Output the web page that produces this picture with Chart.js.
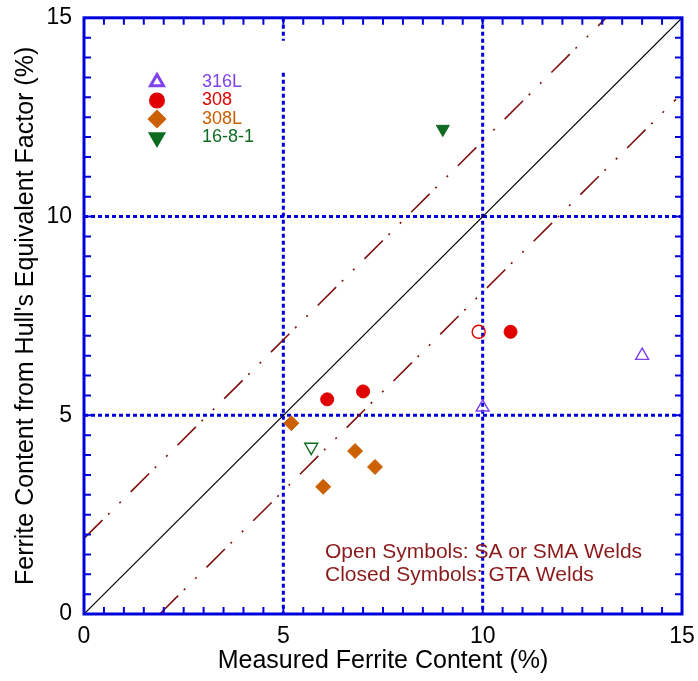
<!DOCTYPE html>
<html>
<head>
<meta charset="utf-8">
<script src="https://cdn.jsdelivr.net/npm/chart.js@4.4.1/dist/chart.umd.min.js"></script>
<style>
  html, body { margin: 0; padding: 0; background: #fff; }
  #wrap { width: 698px; height: 681px; }
</style>
</head>
<body>
<div id="wrap"><canvas id="ferriteChart"></canvas></div>
<script>
// data
const x316LOpen = [10.0, 14.0];
const y316LOpen = [5.2, 6.5];
const x308Closed = [6.1, 7.0, 10.7];
const y308Closed = [5.4, 5.6, 7.1];
const x308Open = [9.9];
const y308Open = [7.1];
const x308LClosed = [5.2, 6.0, 6.8, 7.3];
const y308LClosed = [4.8, 3.2, 4.1, 3.7];
const x1681Closed = [9.0];
const y1681Closed = [12.2];
const x1681Open = [5.7];
const y1681Open = [4.2];

// reference lines
const xEqual = [0, 15];
const yEqual = [0, 15];
const xUpper = [0, 13.1];
const yUpper = [1.9, 15];
const xLower = [1.9, 14.85];
const yLower = [0, 12.95];

const axisTicks = [0, 5, 10, 15];
const gridValues = [5, 10];

const legendLabels = ['316L', '308', '308L', '16-8-1'];
const legendColors = ['#7f40ee', '#e00000', '#cc6000', '#0f6a22'];
const legendStyles = ['triangle', 'circle', 'rectRot', 'triangle'];
const legendRotation = [0, 0, 0, 180];
const legendFilled = [false, true, true, true];

const noteLines = ['Open Symbols: SA or SMA Welds', 'Closed Symbols: GTA Welds'];

const FONT = 'Liberation Sans, Arial, Helvetica, sans-serif';
const BLUE = '#0000dd';
const LINE_RED = '#7f1010';

function pts(xs, ys) {
    return xs.map((x, i) => ({ x: x, y: ys[i] }));
}

function markerSet(label, xs, ys, color, style, filled, rotation) {
    return {
        label: label,
        data: pts(xs, ys),
        showLine: false,
        pointStyle: style,
        pointRotation: rotation || 0,
        pointRadius: style === 'circle' ? 6.5 : 7.5,
        pointBorderWidth: filled ? 1 : 1.4,
        borderColor: color,
        backgroundColor: filled ? color : 'rgba(0,0,0,0)',
        order: 1
    };
}

function lineSet(xs, ys, color, dash, width) {
    return {
        data: pts(xs, ys),
        showLine: true,
        borderColor: color,
        borderWidth: width,
        borderDash: dash,
        pointRadius: 0,
        fill: false,
        order: 2
    };
}

// frame, minor ticks and dotted grid
const framePlugin = {
    id: 'frame',
    beforeDatasetsDraw(chart) {
        const { ctx, chartArea: a, scales: { x, y } } = chart;
        ctx.save();
        ctx.strokeStyle = BLUE;
        ctx.lineWidth = 3;
        ctx.setLineDash([4, 3]);
        gridValues.forEach(v => {
            const px = x.getPixelForValue(v);
            const py = y.getPixelForValue(v);
            ctx.beginPath();
            if (v === 5) {
                // short break near the top of the x = 5 line
                ctx.moveTo(px, a.top);
                ctx.lineTo(px, y.getPixelForValue(14.42));
                ctx.moveTo(px, y.getPixelForValue(13.62));
            } else {
                ctx.moveTo(px, a.top);
            }
            ctx.lineTo(px, a.bottom);
            ctx.moveTo(a.left, py);
            ctx.lineTo(a.right, py);
            ctx.stroke();
        });
        ctx.restore();
    },
    afterDatasetsDraw(chart) {
        const { ctx, chartArea: a, scales: { x, y } } = chart;
        ctx.save();
        ctx.strokeStyle = BLUE;
        ctx.lineWidth = 2;
        ctx.beginPath();
        for (let v = 0.5; v < 15; v += 0.5) {
            const px = x.getPixelForValue(v);
            const py = y.getPixelForValue(v);
            ctx.moveTo(px, a.bottom); ctx.lineTo(px, a.bottom - 7);
            ctx.moveTo(px, a.top); ctx.lineTo(px, a.top + 7);
            ctx.moveTo(a.left, py); ctx.lineTo(a.left + 7, py);
            ctx.moveTo(a.right, py); ctx.lineTo(a.right - 7, py);
        }
        ctx.stroke();
        ctx.lineWidth = 3;
        ctx.strokeRect(a.left, a.top, a.right - a.left, a.bottom - a.top);

        // legend block
        ctx.font = '18px ' + FONT;
        ctx.textBaseline = 'middle';
        legendLabels.forEach((lab, i) => {
            const cy = 82 + i * 18.5;
            ctx.strokeStyle = legendColors[i];
            ctx.fillStyle = legendFilled[i] ? legendColors[i] : 'rgba(0,0,0,0)';
            Chart.helpers.drawPoint(ctx, {
                pointStyle: legendStyles[i],
                rotation: legendRotation[i],
                radius: legendStyles[i] === 'circle' ? 6.5 : 7.5,
                borderWidth: legendFilled[i] ? 1 : 1.4
            }, 157, cy);
            ctx.fillStyle = legendColors[i];
            ctx.fillText(lab, 202, cy);
        });

        // note text
        ctx.font = '21px ' + FONT;
        ctx.fillStyle = '#8b1a1a';
        noteLines.forEach((t, i) => ctx.fillText(t, 325, 552 + i * 23));
        ctx.restore();
    }
};

new Chart(document.getElementById('ferriteChart'), {
    type: 'scatter',
    data: {
        datasets: [
            markerSet('316L', x316LOpen, y316LOpen, legendColors[0], 'triangle', false),
            markerSet('308', x308Closed, y308Closed, legendColors[1], 'circle', true),
            markerSet('308 open', x308Open, y308Open, legendColors[1], 'circle', false),
            markerSet('308L', x308LClosed, y308LClosed, legendColors[2], 'rectRot', true),
            markerSet('16-8-1', x1681Closed, y1681Closed, legendColors[3], 'triangle', true, 180),
            markerSet('16-8-1 open', x1681Open, y1681Open, legendColors[3], 'triangle', false, 180),
            lineSet(xEqual, yEqual, '#000000', [], 1.2),
            lineSet(xUpper, yUpper, LINE_RED, [26, 8, 2, 14, 2, 14], 1.6),
            lineSet(xLower, yLower, LINE_RED, [26, 8, 2, 14, 2, 14], 1.6)
        ]
    },
    options: {
        responsive: true,
        maintainAspectRatio: false,
        animation: false,
        layout: { padding: { top: 5, right: 16, left: 0, bottom: 0 } },
        plugins: {
            legend: { display: false },
            tooltip: { enabled: false }
        },
        scales: {
            x: {
                type: 'linear',
                min: 0,
                max: 15,
                afterFit: s => { s.height = 67; },
                afterBuildTicks: s => { s.ticks = axisTicks.map(v => ({ value: v })); },
                grid: { display: false },
                border: { display: false },
                ticks: {
                    padding: 1,
                    color: '#000',
                    font: { family: FONT, size: 23 }
                },
                title: {
                    display: true,
                    text: 'Measured Ferrite Content (%)',
                    color: '#000',
                    padding: { top: 0, bottom: 5 },
                    font: { family: FONT, size: 25 }
                }
            },
            y: {
                type: 'linear',
                min: 0,
                max: 15,
                afterFit: s => { s.width = 84; },
                afterBuildTicks: s => { s.ticks = axisTicks.map(v => ({ value: v })); },
                grid: { display: false },
                border: { display: false },
                ticks: {
                    padding: 4,
                    color: '#000',
                    font: { family: FONT, size: 23 }
                },
                title: {
                    display: true,
                    text: "Ferrite Content from Hull's Equivalent Factor (%)",
                    color: '#000',
                    padding: { top: 11, bottom: 0 },
                    font: { family: FONT, size: 25 }
                }
            }
        }
    },
    plugins: [framePlugin]
});
</script>
</body>
</html>
